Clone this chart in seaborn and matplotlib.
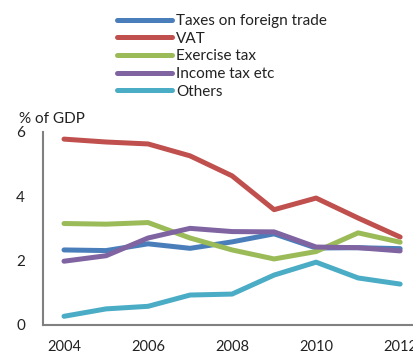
import pandas as pd
import matplotlib
matplotlib.use('Agg')
import matplotlib.pyplot as plt
import seaborn as sns
from matplotlib.ticker import MultipleLocator

# Data (% of GDP)
years = [2004, 2005, 2006, 2007, 2008, 2009, 2010, 2011, 2012]
foreign_trade = [2.33, 2.31, 2.52, 2.38, 2.58, 2.83, 2.39, 2.40, 2.37]
vat = [5.77, 5.68, 5.62, 5.25, 4.63, 3.58, 3.94, 3.32, 2.73]
exercise_tax = [3.15, 3.13, 3.18, 2.70, 2.33, 2.05, 2.28, 2.86, 2.57]
income_tax = [1.98, 2.15, 2.70, 3.00, 2.90, 2.89, 2.42, 2.40, 2.30]
others = [0.27, 0.50, 0.58, 0.93, 0.96, 1.55, 1.95, 1.46, 1.27]

series_names = ['Taxes on foreign trade', 'VAT', 'Exercise tax', 'Income tax etc', 'Others']
colors = ['#4a7ebb', '#c0504d', '#9bbb59', '#8064a2', '#4bacc6']

rows = []
for name, vals in zip(series_names, [foreign_trade, vat, exercise_tax, income_tax, others]):
    for yr, v in zip(years, vals):
        rows.append({'Year': yr, 'Value': v, 'Series': name})
df = pd.DataFrame(rows)

sns.set_style('white')
plt.rcParams['font.family'] = ['Lato', 'DejaVu Sans']

fig = plt.figure(figsize=(4.14, 3.53), dpi=100)
ax = fig.add_axes([43 / 414, 28 / 353, 1 - 43 / 414, (325 - 131.7) / 353])

sns.lineplot(data=df, x='Year', y='Value', hue='Series', hue_order=series_names,
             palette=colors, linewidth=3.6, ax=ax, legend=False)

ax.set_xlim(2003.5, 2012.33)
ax.set_ylim(0, 6)
ax.set_xlabel('')
ax.set_ylabel('')

grey = '#808080'
for side in ['top', 'right']:
    ax.spines[side].set_visible(False)
for side in ['left', 'bottom']:
    ax.spines[side].set_color(grey)
    ax.spines[side].set_linewidth(1.5)

ax.set_xticks([2004, 2006, 2008, 2010, 2012])
ax.xaxis.set_minor_locator(MultipleLocator(1, offset=0.5))
ax.tick_params(axis='x', which='major', length=0, pad=11, labelsize=10.5, labelcolor='#222222')
ax.tick_params(axis='x', which='minor', direction='in', length=4, width=1.5, color=grey)
ax.set_yticks([0, 2, 4, 6])
ax.tick_params(axis='y', direction='inout', length=8, width=1.5, color=grey,
               pad=9, labelsize=11, labelcolor='#222222')

fig.text(19 / 414, 1 - 123 / 353, '% of GDP', fontsize=11, color='#222222', va='baseline')

handles = [plt.Line2D([], [], color=c, linewidth=3.6, solid_capstyle='round') for c in colors]
fig.legend(handles, series_names, loc='upper left', bbox_to_anchor=(117 / 414, 1 - 14 / 353),
           frameon=False, fontsize=11, handlelength=3.6, handletextpad=0.25,
           labelspacing=0.24, borderpad=0, borderaxespad=0, labelcolor='#222222')

fig.savefig('out.png', dpi=100)
